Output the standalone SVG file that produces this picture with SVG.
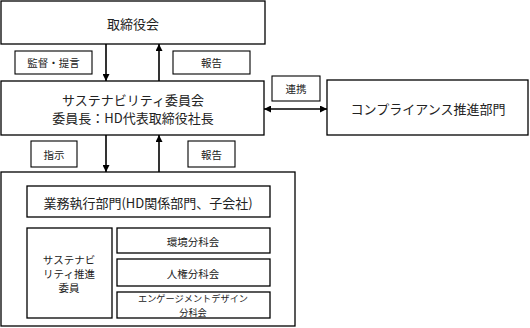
<svg xmlns="http://www.w3.org/2000/svg" width="530" height="328" viewBox="0 0 530 328">
<style>
.box{fill:#fff;stroke:#000;stroke-width:1.3}
.lbl{fill:#fff;stroke:#000;stroke-width:1.1}
.t{font-family:"Noto Sans CJK JP","Liberation Serif",serif;fill:#222;text-anchor:middle;dominant-baseline:central}
.big{font-size:13px}
.sm{font-size:9.2px}
.md{font-size:10.5px}
.ln{stroke:#000;stroke-width:1.6;fill:none}
</style>
<defs>
<marker id="ah" viewBox="0 0 10 10" refX="10" refY="5" markerWidth="7" markerHeight="7" markerUnits="userSpaceOnUse" orient="auto-start-reverse">
<path d="M0,0 L10,5 L0,10 z" fill="#000"/>
</marker>
</defs>
<rect width="530" height="328" fill="#fff"/>
<g id="board"><rect class="box" x="1" y="1" width="264" height="43"/><text class="t big" x="133" y="23">取締役会</text></g>
<g id="committee"><rect class="box" x="1" y="81" width="263" height="54"/><text class="t big" x="133" y="99">サステナビリティ委員会</text><text class="t big" x="133" y="117">委員長：HD代表取締役社長</text></g>
<g id="compliance"><rect class="box" x="327" y="80" width="201" height="55"/><text class="t big" x="428" y="108">コンプライアンス推進部門</text></g>
<g id="execution-group"><rect class="box" x="1" y="172" width="294" height="154"/></g>
<g id="execution"><rect class="box" x="27" y="186" width="243" height="31"/><text class="t big" x="148" y="202">業務執行部門(HD関係部門、子会社)</text></g>
<g id="promoter"><rect class="box" x="27" y="228" width="85" height="90"/><text class="t md" x="69" y="259">サステナビ</text><text class="t md" x="69" y="273">リティ推進</text><text class="t md" x="69" y="287">委員</text></g>
<g id="env"><rect class="box" x="117" y="228" width="153" height="25"/><text class="t md" x="193" y="241">環境分科会</text></g>
<g id="hr"><rect class="box" x="117" y="259" width="153" height="27"/><text class="t md" x="193" y="273">人権分科会</text></g>
<g id="engage"><rect class="box" x="117" y="292" width="153" height="26"/><text class="t sm" x="193" y="298.3">エンゲージメントデザイン</text><text class="t sm" x="193" y="311.9">分科会</text></g>
<g id="connectors">
<line class="ln" x1="106" y1="44" x2="106" y2="81" marker-end="url(#ah)"/>
<line class="ln" x1="159" y1="81" x2="159" y2="44" marker-end="url(#ah)"/>
<line class="ln" x1="106" y1="135" x2="106" y2="172" marker-end="url(#ah)"/>
<line class="ln" x1="159" y1="172" x2="159" y2="135" marker-end="url(#ah)"/>
<line class="ln" x1="264" y1="109" x2="327" y2="109" marker-start="url(#ah)" marker-end="url(#ah)"/>
<g id="lbl-oversight"><rect class="lbl" x="15" y="51" width="77" height="23"/><text class="t md" x="53.5" y="62.5">監督・提言</text></g>
<g id="lbl-report1"><rect class="lbl" x="173" y="51" width="77" height="23"/><text class="t md" x="211.5" y="62.5">報告</text></g>
<g id="lbl-instruct"><rect class="lbl" x="31" y="141" width="46" height="26"/><text class="t md" x="54" y="154">指示</text></g>
<g id="lbl-report2"><rect class="lbl" x="188" y="141" width="47" height="26"/><text class="t md" x="211.5" y="154">報告</text></g>
<g id="lbl-collab"><rect class="lbl" x="272" y="76" width="48" height="25"/><text class="t md" x="296" y="88.5">連携</text></g>
</g>
</svg>
